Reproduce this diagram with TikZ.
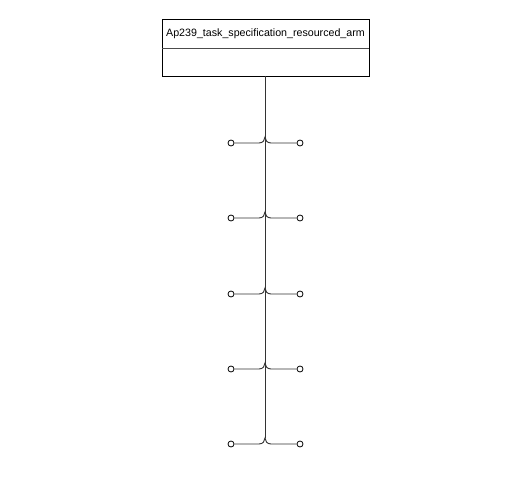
\documentclass[tikz,border=0pt]{standalone}
\usepackage{fontspec}
\setmainfont{Liberation Sans}
\begin{document}
\begin{tikzpicture}[x=0.75pt,y=-0.75pt,
  lbl/.style={font=\fontsize{8.0}{10}\selectfont,inner sep=0pt},
  pin/.style={circle,draw,fill=white,minimum size=4.5pt,inner sep=0pt,line width=0.6pt},
  wire/.style={line width=0.7pt,draw=black!80}]
\useasboundingbox (0,0) rectangle (511,492);
\draw[line width=0.7pt] (162,19) rectangle (369,76);
\draw[line width=0.7pt,draw=black!70] (162,48) -- (369,48);
\node[lbl] (title) at (265.5,33.5) {Ap239\_task\_specification\_resourced\_arm};
\coordinate (top) at (265,76);
\coordinate (bot) at (265,438);
\draw[wire] (top) -- (bot);
\foreach \y/\n in {143/a,218/b,294/c,369/d,444/e}{
  \coordinate (j\n) at (265,\y-6);
  \node[pin] (l\n) at (231,\y) {};
  \node[pin] (r\n) at (300,\y) {};
  \draw[wire] (l\n) -- (259,\y) .. controls (263,\y) and (265,\y-3) .. (j\n)
              .. controls (265,\y-3) and (267,\y) .. (271,\y) -- (r\n);
}
\end{tikzpicture}
\end{document}
